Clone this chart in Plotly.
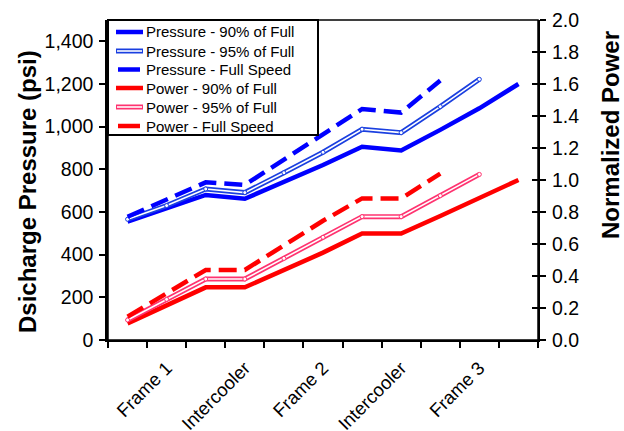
import plotly.graph_objects as go

# ---- data ----
x_idx = list(range(1, 12))
tick_pos = [2, 4, 6, 8, 10]
tick_text = ["Frame 1", "Intercooler", "Frame 2", "Intercooler", "Frame 3"]
boundaries = [i + 0.5 for i in range(0, 12)]

press_90 = [555, 618, 680, 662, 742, 820, 906, 888, 985, 1086, 1200]
press_95 = [566, 630, 708, 691, 784, 880, 988, 972, 1094, 1222]
press_full = [578, 656, 739, 727, 844, 962, 1083, 1066, 1216]

power_90 = [0.104, 0.219, 0.329, 0.329, 0.4375, 0.546, 0.665, 0.665, 0.775, 0.885, 1.0]
power_95 = [0.125, 0.254, 0.381, 0.381, 0.51, 0.642, 0.771, 0.771, 0.902, 1.035]
power_full = [0.146, 0.29, 0.4375, 0.4375, 0.59, 0.745, 0.885, 0.885, 1.04]

legend_names = ["Pressure - 90% of Full", "Pressure - 95% of Full", "Pressure - Full Speed",
                "Power - 90% of Full", "Power - 95% of Full", "Power - Full Speed"]

BLUE = "#0000FF"
BLUE2 = "#1A3FE0"
RED = "#FF0000"
PINK = "#FF3370"
FONT = "Liberation Sans, Arial, sans-serif"

fig = go.Figure()

def solid(y, color, axis, dash=None):
    fig.add_trace(go.Scatter(x=x_idx[:len(y)], y=y, mode="lines", yaxis=axis, showlegend=False,
                             line=dict(color=color, width=4.5, dash=dash)))

def double(y, color, axis):
    fig.add_trace(go.Scatter(x=x_idx[:len(y)], y=y, mode="lines", yaxis=axis, showlegend=False,
                             line=dict(color=color, width=5)))
    fig.add_trace(go.Scatter(x=x_idx[:len(y)], y=y, mode="lines+markers", yaxis=axis, showlegend=False,
                             line=dict(color="white", width=1.6),
                             marker=dict(size=4, color="white", line=dict(color=color, width=1))))

solid(press_90, BLUE, "y")
double(press_95, BLUE2, "y")
solid(press_full, BLUE, "y", dash="18px,8px")
solid(power_90, RED, "y2")
double(power_95, PINK, "y2")
solid(power_full, RED, "y2", dash="18px,8px")

# ---- layout ----
L, R, T, B = 108, 86, 20, 91
W, H = 624, 431
pw, ph = W - L - R, H - T - B

def px2paper_x(px):
    return (px - L) / pw

def px2paper_y(py):
    return (H - B - py) / ph

shapes = []
annotations = []

# plot border
shapes.append(dict(type="rect", xref="paper", yref="paper", x0=0, x1=1, y0=0, y1=1,
                   line=dict(color="black", width=1.5), layer="above"))

# manual legend
shapes.append(dict(type="rect", xref="paper", yref="paper",
                   x0=px2paper_x(108), x1=px2paper_x(318), y0=px2paper_y(135), y1=1,
                   line=dict(color="black", width=2), fillcolor="white", layer="above"))
row_y = [32, 51, 69.5, 88, 107, 126]
styles = [(BLUE, None), (BLUE2, "double"), (BLUE, "dash"), (RED, None), (PINK, "double"), (RED, "dash")]
for name, ry, (col, st) in zip(legend_names, row_y, styles):
    yy = px2paper_y(ry)
    if st == "double":
        shapes.append(dict(type="line", xref="paper", yref="paper", x0=px2paper_x(116), x1=px2paper_x(143),
                           y0=yy, y1=yy, line=dict(color=col, width=5), layer="above"))
        shapes.append(dict(type="line", xref="paper", yref="paper", x0=px2paper_x(117), x1=px2paper_x(142),
                           y0=yy, y1=yy, line=dict(color="white", width=1.6), layer="above"))
    elif st == "dash":
        shapes.append(dict(type="line", xref="paper", yref="paper", x0=px2paper_x(118), x1=px2paper_x(140),
                           y0=yy, y1=yy, line=dict(color=col, width=4.5), layer="above"))
    else:
        shapes.append(dict(type="line", xref="paper", yref="paper", x0=px2paper_x(116), x1=px2paper_x(143),
                           y0=yy, y1=yy, line=dict(color=col, width=4.5), layer="above"))
    annotations.append(dict(xref="paper", yref="paper", x=px2paper_x(144), y=yy, text=name,
                            showarrow=False, xanchor="left", yanchor="middle",
                            font=dict(family=FONT, size=15, color="black")))

# axis titles
annotations.append(dict(xref="paper", yref="paper", x=px2paper_x(27), y=px2paper_y(192),
                        text="<b>Dsicharge Pressure (psi)</b>", textangle=-90, showarrow=False,
                        xanchor="center", yanchor="middle", font=dict(family=FONT, size=24, color="black")))
annotations.append(dict(xref="paper", yref="paper", x=px2paper_x(610), y=px2paper_y(135),
                        text="<b>Normalized Power</b>", textangle=-90, showarrow=False,
                        xanchor="center", yanchor="middle", font=dict(family=FONT, size=24, color="black")))

tickfont = dict(family=FONT, size=19.5, color="black")

fig.update_layout(
    width=W, height=H,
    margin=dict(l=L, r=R, t=T, b=B, autoexpand=False),
    plot_bgcolor="white", paper_bgcolor="white",
    showlegend=False,
    shapes=shapes, annotations=annotations,
    xaxis=dict(range=[0.5, 11.5], tickmode="array", tickvals=tick_pos, ticktext=tick_text,
               tickangle=-45, ticks="", showgrid=False, zeroline=False, automargin=False,
               showline=True, linecolor="black", linewidth=2,
               tickfont=dict(family=FONT, size=18.5, color="black"), ticklabelstandoff=8,
               minor=dict(tickmode="array", tickvals=boundaries, ticks="outside", ticklen=6,
                          tickcolor="black", tickwidth=1.5, showgrid=False)),
    yaxis=dict(range=[0, 1500], tickmode="array", tickvals=list(range(0, 1401, 200)),
               tickformat=",", ticks="outside", ticklen=6, tickwidth=1.5, tickcolor="black",
               showgrid=False, zeroline=False, showline=True, linecolor="black", linewidth=2.5,
               tickfont=tickfont, ticklabelstandoff=2, automargin=False),
    yaxis2=dict(range=[0, 2.0], overlaying="y", side="right", tickmode="array",
                tickvals=[i / 10 for i in range(0, 21, 2)], tickformat=".1f",
                ticks="outside", ticklen=6, tickwidth=1.5, tickcolor="black",
                showgrid=False, zeroline=False, showline=True, linecolor="black", linewidth=2,
                tickfont=tickfont, ticklabelstandoff=2, automargin=False),
    yaxis3=dict(range=[0, 2.0], overlaying="y", side="right", tickmode="array",
                tickvals=[i / 10 for i in range(0, 21, 2)], ticks="inside", ticklen=6,
                tickwidth=1.5, tickcolor="black", showticklabels=False, automargin=False,
                showgrid=False, zeroline=False, showline=False),
)
# dummy trace to activate yaxis3
fig.add_trace(go.Scatter(x=[None], y=[None], yaxis="y3", showlegend=False))

fig.write_html("out.html", config={"displayModeBar": False},
               post_script="document.body.style.margin='0px';document.body.style.overflow='hidden';")
